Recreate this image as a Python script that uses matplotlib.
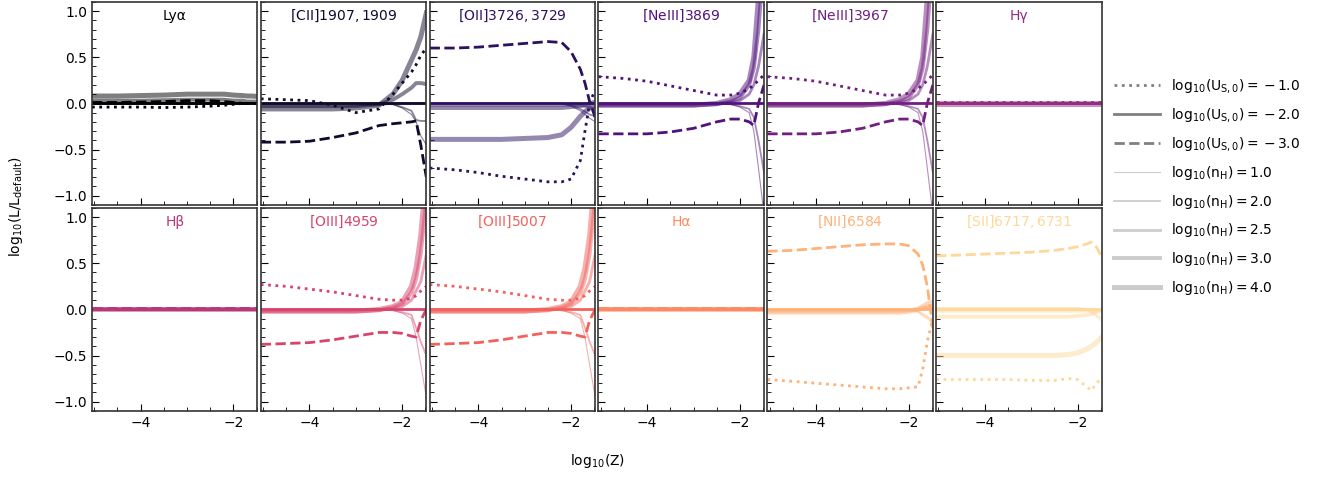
import matplotlib
matplotlib.use('Agg')
import matplotlib.pyplot as plt
from matplotlib.lines import Line2D
from matplotlib.ticker import MultipleLocator
import numpy as np

# log10(Z) grid shared by all curves
logZ = [-5.05, -4.5, -4.0, -3.5, -3.0, -2.5, -2.2, -2.0, -1.8, -1.7, -1.6, -1.48]

line_labels = ['Lyα', r'$\mathrm{[CII]1907,1909}$', r'$\mathrm{[OII]3726,3729}$',
               r'$\mathrm{[NeIII]3869}$', r'$\mathrm{[NeIII]3967}$', 'Hγ',
               'Hβ', r'$\mathrm{[OIII]4959}$', r'$\mathrm{[OIII]5007}$', 'Hα',
               r'$\mathrm{[NII]6584}$', r'$\mathrm{[SII]6717,6731}$']

zero = [0.0] * 12

# log10(U_S,0) = -1 / -3 runs, relative to default
u1 = [
    [-0.04, -0.04, -0.04, -0.045, -0.04, -0.03, -0.02, -0.01, 0.0, 0.0, 0.0, 0.0],
    [0.05, 0.04, 0.03, -0.02, -0.1, -0.06, 0.1, 0.22, 0.34, 0.42, 0.52, 0.6],
    [-0.7, -0.72, -0.75, -0.79, -0.82, -0.85, -0.85, -0.82, -0.62, -0.3, 0.0, 0.15],
    [0.29, 0.27, 0.24, 0.19, 0.14, 0.09, 0.09, 0.11, 0.16, 0.2, 0.25, 0.31],
    [0.29, 0.27, 0.24, 0.19, 0.14, 0.09, 0.09, 0.11, 0.16, 0.2, 0.25, 0.31],
    [0.01, 0.01, 0.01, 0.01, 0.01, 0.01, 0.01, 0.01, 0.01, 0.01, 0.01, 0.01],
    [0.0, 0.0, 0.0, 0.0, 0.0, 0.0, 0.0, 0.0, 0.0, 0.0, 0.0, 0.0],
    [0.27, 0.25, 0.22, 0.19, 0.15, 0.11, 0.1, 0.1, 0.12, 0.15, 0.2, 0.25],
    [0.27, 0.25, 0.22, 0.19, 0.15, 0.11, 0.1, 0.1, 0.12, 0.15, 0.2, 0.25],
    [0.0, 0.0, 0.0, 0.0, 0.0, 0.0, 0.0, 0.0, 0.0, 0.0, 0.0, 0.0],
    [-0.76, -0.78, -0.8, -0.82, -0.84, -0.86, -0.86, -0.85, -0.84, -0.65, -0.35, -0.1],
    [-0.76, -0.76, -0.76, -0.76, -0.77, -0.77, -0.75, -0.76, -0.84, -0.88, -0.8, -0.75],
]
u3 = [
    [0.01, 0.01, 0.015, 0.02, 0.03, 0.03, 0.02, 0.01, 0.0, 0.0, 0.0, 0.0],
    [-0.42, -0.42, -0.41, -0.37, -0.32, -0.24, -0.22, -0.21, -0.2, -0.19, -0.45, -0.8],
    [0.6, 0.6, 0.61, 0.63, 0.65, 0.67, 0.66, 0.56, 0.37, 0.22, 0.02, -0.15],
    [-0.33, -0.33, -0.33, -0.31, -0.27, -0.2, -0.17, -0.17, -0.2, -0.24, 0.0, 0.2],
    [-0.33, -0.33, -0.33, -0.31, -0.27, -0.2, -0.17, -0.17, -0.2, -0.24, 0.0, 0.2],
    [0.0, 0.0, 0.0, 0.0, 0.0, 0.0, 0.0, 0.0, 0.0, 0.0, 0.0, 0.0],
    [0.01, 0.01, 0.01, 0.01, 0.01, 0.01, 0.01, 0.01, 0.01, 0.01, 0.01, 0.01],
    [-0.38, -0.37, -0.36, -0.33, -0.29, -0.25, -0.25, -0.26, -0.29, -0.3, -0.12, 0.0],
    [-0.38, -0.37, -0.36, -0.33, -0.29, -0.25, -0.25, -0.26, -0.29, -0.3, -0.12, 0.0],
    [0.01, 0.01, 0.01, 0.01, 0.01, 0.01, 0.01, 0.01, 0.01, 0.01, 0.01, 0.01],
    [0.63, 0.64, 0.66, 0.68, 0.7, 0.71, 0.71, 0.69, 0.6, 0.48, 0.25, -0.2],
    [0.58, 0.59, 0.6, 0.61, 0.62, 0.64, 0.66, 0.68, 0.71, 0.73, 0.68, 0.57],
]

# log10(n_H) = 1, 2, 2.5, 3, 4 runs
n1 = [
    [-0.01, -0.01, -0.01, -0.01, -0.01, -0.01, -0.01, -0.01, 0.0, 0.0, 0.0, 0.0],
    [0.0, 0.0, 0.0, 0.0, 0.0, 0.0, -0.01, -0.05, -0.12, -0.2, -0.35, -0.45],
    [0.0, 0.0, 0.0, 0.0, 0.0, 0.0, 0.0, -0.03, -0.08, -0.12, -0.16, -0.2],
    [0.0, 0.0, 0.0, 0.0, 0.0, 0.0, -0.01, -0.04, -0.1, -0.3, -0.7, -1.2],
    [0.0, 0.0, 0.0, 0.0, 0.0, 0.0, -0.01, -0.04, -0.1, -0.3, -0.7, -1.2],
    [0.0, 0.0, 0.0, 0.0, 0.0, 0.0, 0.0, 0.0, 0.0, 0.0, 0.0, 0.0],
    [0.0, 0.0, 0.0, 0.0, 0.0, 0.0, 0.0, 0.0, 0.0, 0.0, 0.0, 0.0],
    [0.0, 0.0, 0.0, 0.0, 0.0, 0.0, -0.01, -0.04, -0.1, -0.3, -0.6, -0.95],
    [0.0, 0.0, 0.0, 0.0, 0.0, 0.0, -0.01, -0.04, -0.1, -0.3, -0.6, -0.95],
    [0.0, 0.0, 0.0, 0.0, 0.0, 0.0, 0.0, 0.0, 0.0, 0.0, 0.0, 0.0],
    [0.0, 0.0, 0.0, 0.0, 0.0, 0.0, 0.0, -0.01, -0.03, -0.07, -0.1, -0.15],
    [0.02, 0.02, 0.02, 0.02, 0.02, 0.02, 0.02, 0.02, 0.01, -0.04, -0.08, -0.13],
]
n2 = [
    [0.0, 0.0, 0.0, 0.0, 0.0, 0.0, 0.0, 0.0, 0.0, 0.0, 0.0, 0.0],
    [0.0, 0.0, 0.0, 0.0, 0.0, 0.0, -0.01, -0.04, -0.08, -0.18, -0.19, -0.19],
    [0.0, 0.0, 0.0, 0.0, 0.0, 0.0, 0.0, -0.02, -0.06, -0.09, -0.12, -0.14],
    [0.0, 0.0, 0.0, 0.0, 0.0, 0.0, -0.01, -0.03, -0.06, -0.15, -0.4, -0.75],
    [0.0, 0.0, 0.0, 0.0, 0.0, 0.0, -0.01, -0.03, -0.06, -0.15, -0.4, -0.75],
    [0.0, 0.0, 0.0, 0.0, 0.0, 0.0, 0.0, 0.0, 0.0, 0.0, 0.0, 0.0],
    [0.0, 0.0, 0.0, 0.0, 0.0, 0.0, 0.0, 0.0, 0.0, 0.0, 0.0, 0.0],
    [0.0, 0.0, 0.0, 0.0, 0.0, 0.0, -0.01, -0.03, -0.06, -0.2, -0.35, -0.5],
    [0.0, 0.0, 0.0, 0.0, 0.0, 0.0, -0.01, -0.03, -0.06, -0.2, -0.35, -0.5],
    [0.0, 0.0, 0.0, 0.0, 0.0, 0.0, 0.0, 0.0, 0.0, 0.0, 0.0, 0.0],
    [0.0, 0.0, 0.0, 0.0, 0.0, 0.0, 0.0, 0.0, -0.02, -0.05, -0.08, -0.12],
    [0.01, 0.01, 0.01, 0.01, 0.01, 0.01, 0.01, 0.01, 0.0, -0.03, -0.06, -0.1],
]
n25 = [
    [0.0, 0.0, 0.0, 0.0, 0.0, 0.0, 0.0, 0.0, 0.0, 0.0, 0.0, 0.0],
    [-0.02, -0.02, -0.02, -0.02, -0.02, -0.01, 0.0, 0.0, 0.0, 0.0, 0.0, 0.0],
    [-0.02, -0.02, -0.02, -0.02, -0.02, -0.02, -0.02, -0.02, -0.02, -0.03, -0.04, -0.06],
    [-0.01, -0.01, -0.01, -0.01, -0.01, 0.0, 0.01, 0.03, 0.1, 0.2, 0.4, 0.75],
    [-0.01, -0.01, -0.01, -0.01, -0.01, 0.0, 0.01, 0.03, 0.1, 0.2, 0.4, 0.75],
    [0.0, 0.0, 0.0, 0.0, 0.0, 0.0, 0.0, 0.0, 0.0, 0.0, 0.0, 0.0],
    [0.0, 0.0, 0.0, 0.0, 0.0, 0.0, 0.0, 0.0, 0.0, 0.0, 0.0, 0.0],
    [-0.01, -0.01, -0.01, -0.01, -0.01, 0.0, 0.01, 0.03, 0.1, 0.2, 0.3, 0.6],
    [-0.01, -0.01, -0.01, -0.01, -0.01, 0.0, 0.01, 0.03, 0.1, 0.2, 0.3, 0.6],
    [0.0, 0.0, 0.0, 0.0, 0.0, 0.0, 0.0, 0.0, 0.0, 0.0, 0.0, 0.0],
    [-0.01, -0.01, -0.01, -0.01, -0.01, -0.01, -0.01, -0.01, 0.0, 0.01, 0.02, 0.03],
    [-0.02, -0.02, -0.02, -0.02, -0.02, -0.02, -0.02, -0.02, -0.02, -0.02, -0.02, -0.01],
]
n3 = [
    [0.03, 0.03, 0.03, 0.035, 0.04, 0.04, 0.04, 0.03, 0.03, 0.02, 0.02, 0.02],
    [-0.03, -0.03, -0.03, -0.03, -0.03, -0.01, 0.04, 0.1, 0.17, 0.22, 0.22, 0.21],
    [-0.05, -0.05, -0.05, -0.05, -0.05, -0.05, -0.05, -0.04, -0.03, -0.02, 0.0, 0.02],
    [-0.02, -0.02, -0.02, -0.02, -0.02, -0.01, 0.02, 0.06, 0.2, 0.38, 0.8, 1.6],
    [-0.02, -0.02, -0.02, -0.02, -0.02, -0.01, 0.02, 0.06, 0.2, 0.38, 0.8, 1.6],
    [0.0, 0.0, 0.0, 0.0, 0.0, 0.0, 0.0, 0.0, 0.0, 0.0, 0.0, 0.0],
    [0.0, 0.0, 0.0, 0.0, 0.0, 0.0, 0.0, 0.0, 0.0, 0.0, 0.0, 0.0],
    [-0.02, -0.02, -0.02, -0.02, -0.02, -0.01, 0.02, 0.06, 0.18, 0.33, 0.6, 1.2],
    [-0.02, -0.02, -0.02, -0.02, -0.02, -0.01, 0.02, 0.06, 0.18, 0.33, 0.6, 1.2],
    [0.0, 0.0, 0.0, 0.0, 0.0, 0.0, 0.0, 0.0, 0.0, 0.0, 0.0, 0.0],
    [-0.02, -0.02, -0.02, -0.02, -0.02, -0.02, -0.02, -0.01, 0.0, 0.02, 0.03, 0.04],
    [-0.08, -0.08, -0.08, -0.08, -0.08, -0.08, -0.08, -0.07, -0.06, -0.05, -0.03, -0.01],
]
n4 = [
    [0.08, 0.08, 0.085, 0.09, 0.1, 0.1, 0.1, 0.09, 0.085, 0.08, 0.08, 0.075],
    [-0.06, -0.06, -0.06, -0.06, -0.05, -0.02, 0.1, 0.25, 0.47, 0.58, 0.72, 0.98],
    [-0.39, -0.39, -0.39, -0.39, -0.38, -0.37, -0.34, -0.26, -0.14, -0.09, -0.05, -0.02],
    [-0.02, -0.02, -0.02, -0.02, -0.02, 0.0, 0.04, 0.1, 0.25, 0.5, 1.15, 2.0],
    [-0.02, -0.02, -0.02, -0.02, -0.02, 0.0, 0.04, 0.1, 0.25, 0.5, 1.15, 2.0],
    [-0.01, -0.01, -0.01, -0.01, -0.01, -0.01, -0.01, -0.01, -0.01, -0.01, -0.01, -0.01],
    [0.0, 0.0, 0.0, 0.0, 0.0, 0.0, 0.0, 0.0, 0.0, 0.0, 0.0, 0.0],
    [-0.02, -0.02, -0.02, -0.02, -0.02, 0.0, 0.03, 0.08, 0.25, 0.45, 0.8, 1.5],
    [-0.02, -0.02, -0.02, -0.02, -0.02, 0.0, 0.03, 0.08, 0.25, 0.45, 0.8, 1.5],
    [0.0, 0.0, 0.0, 0.0, 0.0, 0.0, 0.0, 0.0, 0.0, 0.0, 0.0, 0.0],
    [-0.03, -0.03, -0.03, -0.03, -0.03, -0.03, -0.03, -0.02, 0.0, 0.03, 0.06, 0.08],
    [-0.5, -0.5, -0.5, -0.5, -0.5, -0.5, -0.49, -0.47, -0.43, -0.4, -0.36, -0.3],
]

nh_runs = [n1, n2, n25, n3, n4]
nh_values = ['1.0', '2.0', '2.5', '3.0', '4.0']
u_values = ['1.0', '2.0', '3.0']
nh_widths = [0.8, 1.3, 2.0, 2.8, 3.6]

colors = plt.cm.magma(np.linspace(0, 0.92, 12))

fig, axes = plt.subplots(2, 6, figsize=(13.21, 4.8), dpi=100, sharex=True, sharey=True)
fig.subplots_adjust(left=0.0696, right=0.834, top=0.996, bottom=0.144, wspace=0.02, hspace=0.015)

for i, ax in enumerate(axes.flat):
    c = colors[i]
    for run, lw in zip(nh_runs, nh_widths):
        ax.plot(logZ, run[i], color=c, lw=lw, alpha=0.5)
    ax.plot(logZ, u1[i], color=c, lw=2, ls=':')
    ax.plot(logZ, zero, color=c, lw=2, ls='-')
    ax.plot(logZ, u3[i], color=c, lw=2, ls='--')
    ax.text(0.5, 0.93, line_labels[i], color=c, transform=ax.transAxes,
            ha='center', va='center', fontsize=10)
    ax.set_xlim(-5.05, -1.48)
    ax.set_ylim(-1.1, 1.1)
    ax.xaxis.set_major_locator(MultipleLocator(2))
    ax.xaxis.set_minor_locator(MultipleLocator(0.5))
    ax.yaxis.set_major_locator(MultipleLocator(0.5))
    ax.yaxis.set_minor_locator(MultipleLocator(0.1))
    ax.tick_params(which='both', direction='in', top=False, right=False, labelsize=10)
    ax.tick_params(which='major', length=5)
    ax.tick_params(which='minor', length=3)
    for sp in ax.spines.values():
        sp.set_color('#333333')
        sp.set_linewidth(1.2)

fig.text(0.452, 0.04, r'$\mathrm{log_{10}(Z)}$', ha='center', va='center', fontsize=10)
fig.text(0.012, 0.57, r'$\mathrm{log_{10}(L/L_{default})}$', ha='center', va='center',
         rotation=90, fontsize=10)

handles = []
labels = []
for ls, u in zip([':', '-', '--'], u_values):
    handles.append(Line2D([], [], color='gray', lw=2, ls=ls))
    labels.append(r'$\mathrm{log_{10}(U_{S,0})}{=}\,{-}\,%s$' % u)
for nh, lw in zip(nh_values, nh_widths):
    handles.append(Line2D([], [], color='gray', lw=lw, alpha=0.4))
    labels.append(r'$\mathrm{log_{10}(n_H)}{=}%s$' % nh)
fig.legend(handles, labels, loc='center left', bbox_to_anchor=(0.834, 0.61),
           frameon=False, fontsize=10, handlelength=3.3, labelspacing=0.78)

plt.savefig('out.png')
plt.close()
